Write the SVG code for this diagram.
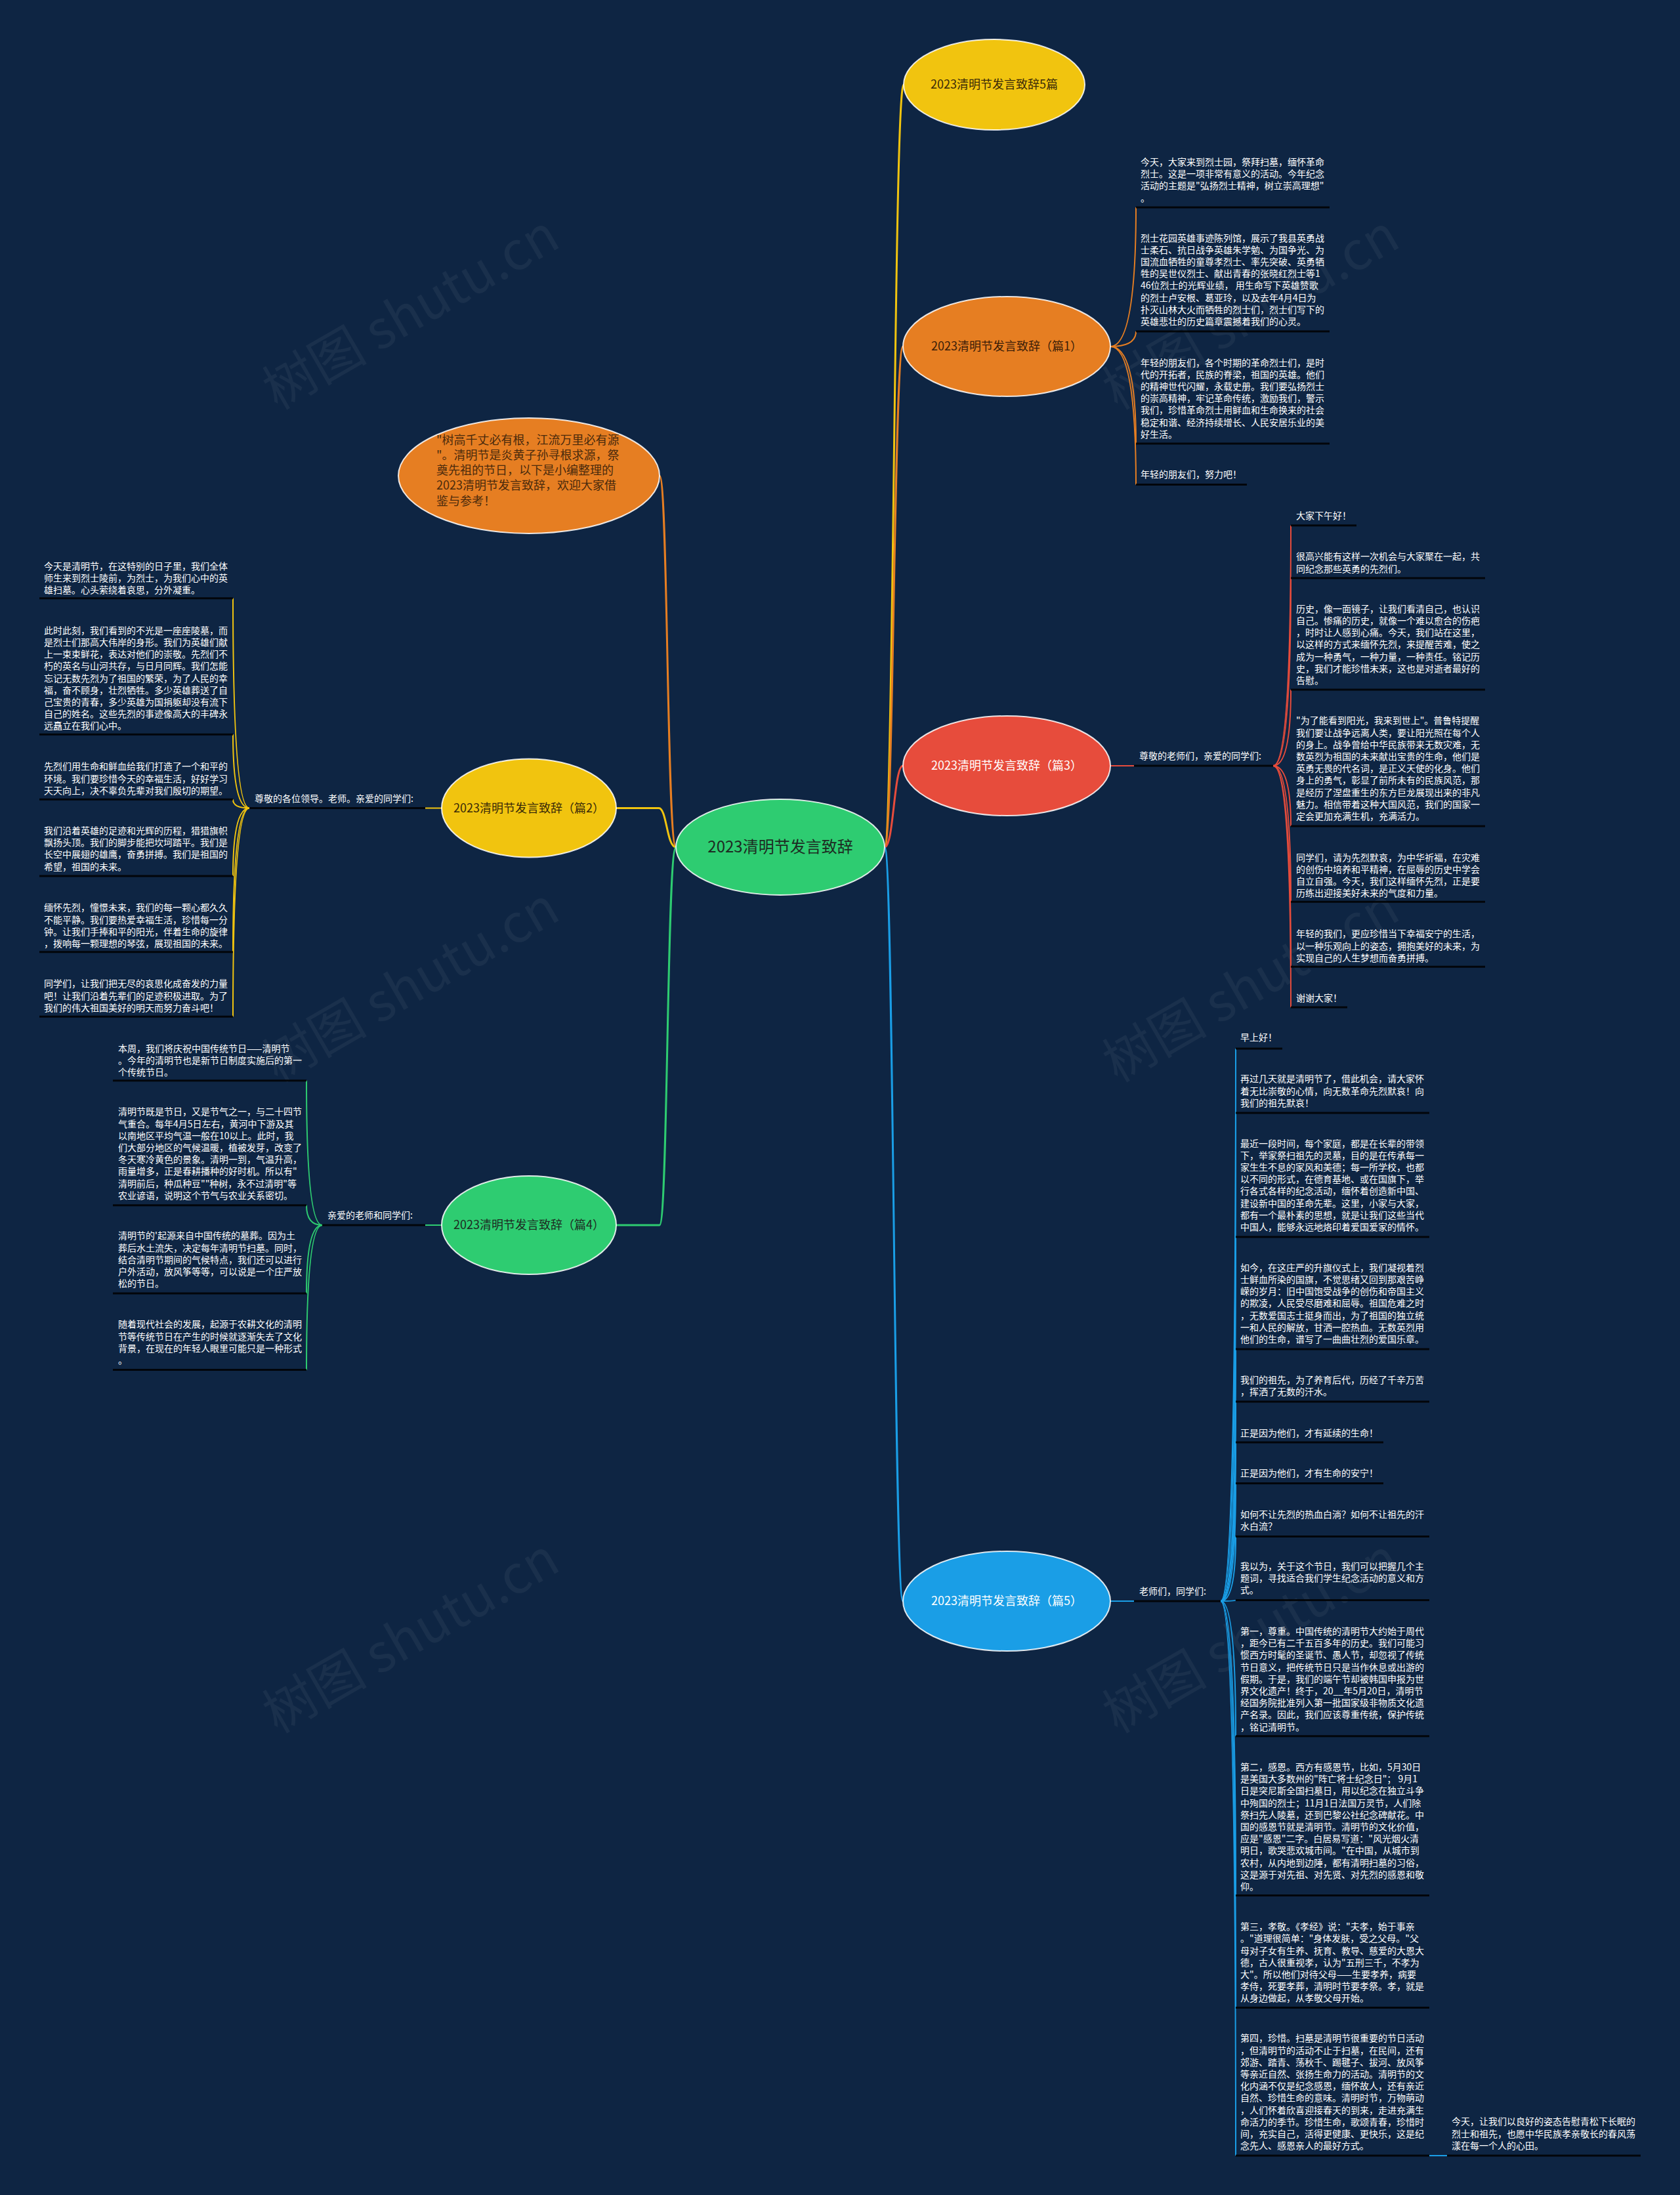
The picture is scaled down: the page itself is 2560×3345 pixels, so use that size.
<svg xmlns="http://www.w3.org/2000/svg" width="2560" height="3345" viewBox="0 0 2560 3345">
<style>
.t{font-family:"Noto Sans CJK SC","Noto Sans",sans-serif;font-size:14px;fill:#ffffff}
.lb{font-family:"Noto Sans CJK SC","Noto Sans",sans-serif;font-size:14px;fill:#ffffff}
.nt{font-family:"Noto Sans CJK SC","Noto Sans",sans-serif;font-size:18px;text-anchor:middle}
.ul{stroke:#000000;stroke-width:3;stroke-opacity:0.85}
.cn{fill:none;stroke-width:2}
.mc{fill:none;stroke-width:3}
.el{stroke:#ffffff;stroke-width:2;stroke-opacity:0.85}
.wm{font-family:"Noto Sans CJK SC","Liberation Sans",sans-serif;font-size:80px;fill:#ffffff;fill-opacity:0.05}
</style>
<rect width="2560" height="3345" fill="#0e2543"/>
<g id="watermarks">
<text class="wm" x="640" y="500" text-anchor="middle" transform="rotate(-30 640 500)">树图 shutu.cn</text>
<text class="wm" x="1920" y="500" text-anchor="middle" transform="rotate(-30 1920 500)">树图 shutu.cn</text>
<text class="wm" x="640" y="1525" text-anchor="middle" transform="rotate(-30 640 1525)">树图 shutu.cn</text>
<text class="wm" x="1920" y="1525" text-anchor="middle" transform="rotate(-30 1920 1525)">树图 shutu.cn</text>
<text class="wm" x="640" y="2517" text-anchor="middle" transform="rotate(-30 640 2517)">树图 shutu.cn</text>
<text class="wm" x="1920" y="2517" text-anchor="middle" transform="rotate(-30 1920 2517)">树图 shutu.cn</text>
</g>
<g id="connectors">
<path class="mc" stroke="#f1c40f" d="M1348 1291 C1362 1291 1362 129 1377 129"/>
<path class="mc" stroke="#e67e22" d="M1348 1291 C1362 1291 1362 528 1376 528"/>
<path class="mc" stroke="#e74c3c" d="M1348 1291 C1362 1291 1362 1167 1376 1167"/>
<path class="mc" stroke="#1a9ee6" d="M1348 1291 C1362 1291 1362 2440 1376 2440"/>
<path class="mc" stroke="#e67e22" d="M1030 1291 C1016 1291 1018 725 1005 725"/>
<path class="mc" stroke="#f1c40f" d="M1030 1291 C1016 1291 1016 1231.5 1004 1231.5 L939 1231.5"/>
<path class="mc" stroke="#2ecc71" d="M1030 1291 C1016 1291 1018 1867 1005 1867 L939 1867"/>
<g stroke="#e67e22" class="cn">
<path d="M1692 528 Q1731 528 1731 316"/>
<path d="M1692 528 Q1731 528 1731 505"/>
<path d="M1692 528 Q1731 528 1731 676"/>
<path d="M1692 528 Q1731 528 1731 738.5"/>
</g>
<g stroke="#e74c3c" class="cn">
<path d="M1692 1167 L1728 1167"/>
<path d="M1940 1167 Q1967 1167 1967 800.7"/>
<path d="M1940 1167 Q1967 1167 1967 881"/>
<path d="M1940 1167 Q1967 1167 1967 1051"/>
<path d="M1940 1167 Q1967 1167 1967 1259"/>
<path d="M1940 1167 Q1967 1167 1967 1374.3"/>
<path d="M1940 1167 Q1967 1167 1967 1473.3"/>
<path d="M1940 1167 Q1967 1167 1967 1535"/>
</g>
<g stroke="#1a9ee6" class="cn">
<path d="M1692 2440 L1728 2440"/>
<path d="M1860 2440 Q1883 2440 1883 1598"/>
<path d="M1860 2440 Q1883 2440 1883 1696"/>
<path d="M1860 2440 Q1883 2440 1883 1885"/>
<path d="M1860 2440 Q1883 2440 1883 2056"/>
<path d="M1860 2440 Q1883 2440 1883 2136"/>
<path d="M1860 2440 Q1883 2440 1883 2198"/>
<path d="M1860 2440 Q1883 2440 1883 2260.4"/>
<path d="M1860 2440 Q1883 2440 1883 2341.4"/>
<path d="M1860 2440 Q1883 2440 1883 2438.6"/>
<path d="M1860 2440 Q1883 2440 1883 2645.7"/>
<path d="M1860 2440 Q1883 2440 1883 2888.4"/>
<path d="M1860 2440 Q1883 2440 1883 3059.6"/>
<path d="M1860 2440 Q1883 2440 1883 3285"/>
<path d="M2178 3285 L2205 3285"/>
</g>
<g stroke="#f1c40f" class="cn">
<path d="M674 1231.5 L648 1231.5"/>
<path d="M380 1231.5 Q355 1231.5 355 911.7"/>
<path d="M380 1231.5 Q355 1231.5 355 1119.3"/>
<path d="M380 1231.5 Q355 1231.5 355 1218.3"/>
<path d="M380 1231.5 Q355 1231.5 355 1335"/>
<path d="M380 1231.5 Q355 1231.5 355 1450.7"/>
<path d="M380 1231.5 Q355 1231.5 355 1549.3"/>
</g>
<g stroke="#2ecc71" class="cn">
<path d="M674 1867 L648 1867"/>
<path d="M491 1867 Q467 1867 467 1646.7"/>
<path d="M491 1867 Q467 1867 467 1836.7"/>
<path d="M491 1867 Q467 1867 467 1971"/>
<path d="M491 1867 Q467 1867 467 2087.4"/>
</g>
</g>
<g id="main">
<ellipse class="el" cx="1189" cy="1291" rx="159" ry="73" fill="#2ecc71"/>
<text class="nt" x="1189" y="1299" style="font-size:24px" fill="#1d2b22">2023清明节发言致辞</text>
</g>
<g id="n-top">
<ellipse class="el" cx="1515" cy="129" rx="138" ry="69" fill="#f1c40f"/>
<text class="nt" x="1515" y="135" fill="#3a2a08">2023清明节发言致辞5篇</text>
</g>
<g id="n-p1">
<ellipse class="el" cx="1534" cy="528" rx="158" ry="76" fill="#e67e22"/>
<text class="nt" x="1534" y="534" fill="#3a1d08">2023清明节发言致辞（篇1）</text>
</g>
<g id="n-p3">
<ellipse class="el" cx="1534" cy="1167" rx="158" ry="76" fill="#e74c3c"/>
<text class="nt" x="1534" y="1173" fill="#ffffff">2023清明节发言致辞（篇3）</text>
</g>
<g id="n-p5">
<ellipse class="el" cx="1534" cy="2440" rx="158" ry="76" fill="#1a9ee6"/>
<text class="nt" x="1534" y="2446" fill="#ffffff">2023清明节发言致辞（篇5）</text>
</g>
<g id="n-intro">
<ellipse class="el" cx="806" cy="725" rx="199" ry="88" fill="#e67e22"/>
<text x="665" y="676.5" style="font-family:'Noto Sans CJK SC',sans-serif;font-size:18px" fill="#4a2a0c">
<tspan x="665" dy="0">"树高千丈必有根，江流万里必有源</tspan>
<tspan x="665" dy="23.3">"。清明节是炎黄子孙寻根求源，祭</tspan>
<tspan x="665" dy="23.3">奠先祖的节日，以下是小编整理的</tspan>
<tspan x="665" dy="23.3">2023清明节发言致辞，欢迎大家借</tspan>
<tspan x="665" dy="23.3">鉴与参考！</tspan>
</text>
</g>
<g id="n-p2">
<ellipse class="el" cx="806" cy="1231.5" rx="133" ry="75" fill="#f1c40f"/>
<text class="nt" x="806" y="1237.5" fill="#3a2a08">2023清明节发言致辞（篇2）</text>
</g>
<g id="n-p4">
<ellipse class="el" cx="806" cy="1867" rx="133" ry="75" fill="#2ecc71"/>
<text class="nt" x="806" y="1873" fill="#1d2b22">2023清明节发言致辞（篇4）</text>
</g>

<g id="p1-children">
<g id="p1-b1"><text class="t" x="1738" y="252"><tspan x="1738" dy="0">今天，大家来到烈士园，祭拜扫墓，缅怀革命</tspan><tspan x="1738" dy="18.2">烈士。这是一项非常有意义的活动。今年纪念</tspan><tspan x="1738" dy="18.2">活动的主题是"弘扬烈士精神，树立崇高理想"</tspan><tspan x="1738" dy="18.2">。</tspan></text><line class="ul" x1="1731" y1="316" x2="2026" y2="316"/></g>
<g id="p1-b2"><text class="t" x="1738" y="367.6"><tspan x="1738" dy="0">烈士花园英雄事迹陈列馆，展示了我县英勇战</tspan><tspan x="1738" dy="18.2">士柔石、抗日战争英雄朱学勉、为国争光、为</tspan><tspan x="1738" dy="18.2">国流血牺牲的童尊孝烈士、率先突破、英勇牺</tspan><tspan x="1738" dy="18.2">牲的吴世仪烈士、献出青春的张晓红烈士等1</tspan><tspan x="1738" dy="18.2">46位烈士的光辉业绩， 用生命写下英雄赞歌</tspan><tspan x="1738" dy="18.2">的烈士卢安根、葛亚玲，以及去年4月4日为</tspan><tspan x="1738" dy="18.2">扑灭山林大火而牺牲的烈士们，烈士们写下的</tspan><tspan x="1738" dy="18.2">英雄悲壮的历史篇章震撼着我们的心灵。</tspan></text><line class="ul" x1="1731" y1="505" x2="2026" y2="505"/></g>
<g id="p1-b3"><text class="t" x="1738" y="557.6"><tspan x="1738" dy="0">年轻的朋友们，各个时期的革命烈士们，是时</tspan><tspan x="1738" dy="18.2">代的开拓者，民族的脊梁，祖国的英雄。他们</tspan><tspan x="1738" dy="18.2">的精神世代闪耀，永载史册。我们要弘扬烈士</tspan><tspan x="1738" dy="18.2">的崇高精神，牢记革命传统，激励我们，警示</tspan><tspan x="1738" dy="18.2">我们，珍惜革命烈士用鲜血和生命换来的社会</tspan><tspan x="1738" dy="18.2">稳定和谐、经济持续增长、人民安居乐业的美</tspan><tspan x="1738" dy="18.2">好生活。</tspan></text><line class="ul" x1="1731" y1="676" x2="2026" y2="676"/></g>
<g id="p1-b4"><text class="t" x="1738" y="727.6">年轻的朋友们，努力吧！</text><line class="ul" x1="1731" y1="738.5" x2="1900" y2="738.5"/></g>
</g>

<g id="p3-label"><text class="lb" x="1736" y="1157">尊敬的老师们，亲爱的同学们:</text><line class="ul" x1="1728" y1="1167" x2="1940" y2="1167"/></g>
<g id="p3-children">
<g id="p3-b1"><text class="t" x="1975" y="790.7">大家下午好！</text><line class="ul" x1="1967" y1="800.7" x2="2067" y2="800.7"/></g>
<g id="p3-b2"><text class="t" x="1975" y="853.3"><tspan x="1975" dy="0">很高兴能有这样一次机会与大家聚在一起，共</tspan><tspan x="1975" dy="18.2">同纪念那些英勇的先烈们。</tspan></text><line class="ul" x1="1967" y1="881" x2="2263" y2="881"/></g>
<g id="p3-b3"><text class="t" x="1975" y="932.7"><tspan x="1975" dy="0">历史，像一面镜子，让我们看清自己，也认识</tspan><tspan x="1975" dy="18.2">自己。惨痛的历史，就像一个难以愈合的伤疤</tspan><tspan x="1975" dy="18.2">，时时让人感到心痛。今天，我们站在这里，</tspan><tspan x="1975" dy="18.2">以这样的方式来缅怀先烈，来提醒苦难，使之</tspan><tspan x="1975" dy="18.2">成为一种勇气，一种力量，一种责任。铭记历</tspan><tspan x="1975" dy="18.2">史，我们才能珍惜未来，这也是对逝者最好的</tspan><tspan x="1975" dy="18.2">告慰。</tspan></text><line class="ul" x1="1967" y1="1051" x2="2263" y2="1051"/></g>
<g id="p3-b4"><text class="t" x="1975" y="1103.3"><tspan x="1975" dy="0">"为了能看到阳光，我来到世上"。普鲁特提醒</tspan><tspan x="1975" dy="18.2">我们要让战争远离人类，要让阳光照在每个人</tspan><tspan x="1975" dy="18.2">的身上。战争曾给中华民族带来无数灾难，无</tspan><tspan x="1975" dy="18.2">数英烈为祖国的未来献出宝贵的生命，他们是</tspan><tspan x="1975" dy="18.2">英勇无畏的代名词，是正义天使的化身。他们</tspan><tspan x="1975" dy="18.2">身上的勇气，彰显了前所未有的民族风范，那</tspan><tspan x="1975" dy="18.2">是经历了涅盘重生的东方巨龙展现出来的非凡</tspan><tspan x="1975" dy="18.2">魅力。相信带着这种大国风范，我们的国家一</tspan><tspan x="1975" dy="18.2">定会更加充满生机，充满活力。</tspan></text><line class="ul" x1="1967" y1="1259" x2="2263" y2="1259"/></g>
<g id="p3-b5"><text class="t" x="1975" y="1311.7"><tspan x="1975" dy="0">同学们，请为先烈默哀，为中华祈福，在灾难</tspan><tspan x="1975" dy="18.2">的创伤中培养和平精神，在屈辱的历史中学会</tspan><tspan x="1975" dy="18.2">自立自强。今天，我们这样缅怀先烈，正是要</tspan><tspan x="1975" dy="18.2">历练出迎接美好未来的气度和力量。</tspan></text><line class="ul" x1="1967" y1="1374.3" x2="2263" y2="1374.3"/></g>
<g id="p3-b6"><text class="t" x="1975" y="1428.3"><tspan x="1975" dy="0">年轻的我们，更应珍惜当下幸福安宁的生活，</tspan><tspan x="1975" dy="18.2">以一种乐观向上的姿态，拥抱美好的未来，为</tspan><tspan x="1975" dy="18.2">实现自己的人生梦想而奋勇拼搏。</tspan></text><line class="ul" x1="1967" y1="1473.3" x2="2263" y2="1473.3"/></g>
<g id="p3-b7"><text class="t" x="1975" y="1525.7">谢谢大家！</text><line class="ul" x1="1967" y1="1535" x2="2053" y2="1535"/></g>
</g>

<g id="p5-label"><text class="lb" x="1736" y="2430">老师们，同学们:</text><line class="ul" x1="1728" y1="2440" x2="1860" y2="2440"/></g>
<g id="p5-children">
<g id="p5-b1"><text class="t" x="1890" y="1586">早上好！</text><line class="ul" x1="1883" y1="1598" x2="1954" y2="1598"/></g>
<g id="p5-b2"><text class="t" x="1890" y="1649.3"><tspan x="1890" dy="0">再过几天就是清明节了，借此机会，请大家怀</tspan><tspan x="1890" dy="18.2">着无比崇敬的心情，向无数革命先烈默哀！向</tspan><tspan x="1890" dy="18.2">我们的祖先默哀！</tspan></text><line class="ul" x1="1883" y1="1696" x2="2178" y2="1696"/></g>
<g id="p5-b3"><text class="t" x="1890" y="1747.5"><tspan x="1890" dy="0">最近一段时间，每个家庭，都是在长辈的带领</tspan><tspan x="1890" dy="18.2">下，举家祭扫祖先的灵墓，目的是在传承每一</tspan><tspan x="1890" dy="18.2">家生生不息的家风和美德；每一所学校，也都</tspan><tspan x="1890" dy="18.2">以不同的形式，在德育基地、或在国旗下，举</tspan><tspan x="1890" dy="18.2">行各式各样的纪念活动，缅怀着创造新中国、</tspan><tspan x="1890" dy="18.2">建设新中国的革命先辈。这里，小家与大家，</tspan><tspan x="1890" dy="18.2">都有一个最朴素的思想，就是让我们这些当代</tspan><tspan x="1890" dy="18.2">中国人，能够永远地烙印着爱国爱家的情怀。</tspan></text><line class="ul" x1="1883" y1="1885" x2="2178" y2="1885"/></g>
<g id="p5-b4"><text class="t" x="1890" y="1936.8"><tspan x="1890" dy="0">如今，在这庄严的升旗仪式上，我们凝视着烈</tspan><tspan x="1890" dy="18.2">士鲜血所染的国旗，不觉思绪又回到那艰苦峥</tspan><tspan x="1890" dy="18.2">嵘的岁月：旧中国饱受战争的创伤和帝国主义</tspan><tspan x="1890" dy="18.2">的欺凌，人民受尽磨难和屈辱。祖国危难之时</tspan><tspan x="1890" dy="18.2">，无数爱国志士挺身而出，为了祖国的独立统</tspan><tspan x="1890" dy="18.2">一和人民的解放，甘洒一腔热血。无数英烈用</tspan><tspan x="1890" dy="18.2">他们的生命，谱写了一曲曲壮烈的爱国乐章。</tspan></text><line class="ul" x1="1883" y1="2056" x2="2178" y2="2056"/></g>
<g id="p5-b5"><text class="t" x="1890" y="2107.5"><tspan x="1890" dy="0">我们的祖先，为了养育后代，历经了千辛万苦</tspan><tspan x="1890" dy="18.2">，挥洒了无数的汗水。</tspan></text><line class="ul" x1="1883" y1="2136" x2="2178" y2="2136"/></g>
<g id="p5-b6"><text class="t" x="1890" y="2188.6">正是因为他们，才有延续的生命！</text><line class="ul" x1="1883" y1="2198" x2="2108" y2="2198"/></g>
<g id="p5-b7"><text class="t" x="1890" y="2250">正是因为他们，才有生命的安宁！</text><line class="ul" x1="1883" y1="2260.4" x2="2108" y2="2260.4"/></g>
<g id="p5-b8"><text class="t" x="1890" y="2312.5"><tspan x="1890" dy="0">如何不让先烈的热血白淌？如何不让祖先的汗</tspan><tspan x="1890" dy="18.2">水白流？</tspan></text><line class="ul" x1="1883" y1="2341.4" x2="2178" y2="2341.4"/></g>
<g id="p5-b9"><text class="t" x="1890" y="2392"><tspan x="1890" dy="0">我以为，关于这个节日，我们可以把握几个主</tspan><tspan x="1890" dy="18.2">题词，寻找适合我们学生纪念活动的意义和方</tspan><tspan x="1890" dy="18.2">式。</tspan></text><line class="ul" x1="1883" y1="2438.6" x2="2178" y2="2438.6"/></g>
<g id="p5-b10"><text class="t" x="1890" y="2491"><tspan x="1890" dy="0">第一，尊重。中国传统的清明节大约始于周代</tspan><tspan x="1890" dy="18.2">，距今已有二千五百多年的历史。我们可能习</tspan><tspan x="1890" dy="18.2">惯西方时髦的圣诞节、愚人节，却忽视了传统</tspan><tspan x="1890" dy="18.2">节日意义，把传统节日只是当作休息或出游的</tspan><tspan x="1890" dy="18.2">假期。于是，我们的端午节却被韩国申报为世</tspan><tspan x="1890" dy="18.2">界文化遗产！终于，20__年5月20日，清明节</tspan><tspan x="1890" dy="18.2">经国务院批准列入第一批国家级非物质文化遗</tspan><tspan x="1890" dy="18.2">产名录。因此，我们应该尊重传统，保护传统</tspan><tspan x="1890" dy="18.2">，铭记清明节。</tspan></text><line class="ul" x1="1883" y1="2645.7" x2="2178" y2="2645.7"/></g>
<g id="p5-b11"><text class="t" x="1890" y="2698"><tspan x="1890" dy="0">第二，感恩。西方有感恩节，比如，5月30日</tspan><tspan x="1890" dy="18.2">是美国大多数州的"阵亡将士纪念日"； 9月1</tspan><tspan x="1890" dy="18.2">日是突尼斯全国扫墓日，用以纪念在独立斗争</tspan><tspan x="1890" dy="18.2">中殉国的烈士；11月1日法国万灵节，人们除</tspan><tspan x="1890" dy="18.2">祭扫先人陵墓，还到巴黎公社纪念碑献花。中</tspan><tspan x="1890" dy="18.2">国的感恩节就是清明节。清明节的文化价值，</tspan><tspan x="1890" dy="18.2">应是"感恩"二字。白居易写道："风光烟火清</tspan><tspan x="1890" dy="18.2">明日，歌哭悲欢城市间。"在中国，从城市到</tspan><tspan x="1890" dy="18.2">农村，从内地到边陲，都有清明扫墓的习俗，</tspan><tspan x="1890" dy="18.2">这是源于对先祖、对先贤、对先烈的感恩和敬</tspan><tspan x="1890" dy="18.2">仰。</tspan></text><line class="ul" x1="1883" y1="2888.4" x2="2178" y2="2888.4"/></g>
<g id="p5-b12"><text class="t" x="1890" y="2941.2"><tspan x="1890" dy="0">第三，孝敬。《孝经》说："夫孝，始于事亲</tspan><tspan x="1890" dy="18.2">。"道理很简单："身体发肤，受之父母。"父</tspan><tspan x="1890" dy="18.2">母对子女有生养、抚育、教导、慈爱的大恩大</tspan><tspan x="1890" dy="18.2">德，古人很重视孝，认为"五刑三千，不孝为</tspan><tspan x="1890" dy="18.2">大"。所以他们对待父母——生要孝养，病要</tspan><tspan x="1890" dy="18.2">孝侍，死要孝葬，清明时节要孝祭。孝，就是</tspan><tspan x="1890" dy="18.2">从身边做起，从孝敬父母开始。</tspan></text><line class="ul" x1="1883" y1="3059.6" x2="2178" y2="3059.6"/></g>
<g id="p5-b13"><text class="t" x="1890" y="3111.3"><tspan x="1890" dy="0">第四，珍惜。扫墓是清明节很重要的节日活动</tspan><tspan x="1890" dy="18.2">，但清明节的活动不止于扫墓，在民间，还有</tspan><tspan x="1890" dy="18.2">郊游、踏青、荡秋千、踢毽子、拔河、放风筝</tspan><tspan x="1890" dy="18.2">等亲近自然、张扬生命力的活动。清明节的文</tspan><tspan x="1890" dy="18.2">化内涵不仅是纪念感恩，缅怀故人，还有亲近</tspan><tspan x="1890" dy="18.2">自然、珍惜生命的意味。清明时节，万物萌动</tspan><tspan x="1890" dy="18.2">，人们怀着欣喜迎接春天的到来，走进充满生</tspan><tspan x="1890" dy="18.2">命活力的季节。珍惜生命，歌颂青春，珍惜时</tspan><tspan x="1890" dy="18.2">间，充实自己，活得更健康、更快乐，这是纪</tspan><tspan x="1890" dy="18.2">念先人、感恩亲人的最好方式。</tspan></text><line class="ul" x1="1883" y1="3285" x2="2178" y2="3285"/></g>
<g id="p5-b14"><text class="t" x="2212" y="3238.3"><tspan x="2212" dy="0">今天，让我们以良好的姿态告慰青松下长眠的</tspan><tspan x="2212" dy="18.2">烈士和祖先，也愿中华民族孝亲敬长的春风荡</tspan><tspan x="2212" dy="18.2">漾在每一个人的心田。</tspan></text><line class="ul" x1="2205" y1="3285" x2="2500" y2="3285"/></g>
</g>

<g id="p2-label"><text class="lb" x="388" y="1221.5">尊敬的各位领导。老师。亲爱的同学们:</text><line class="ul" x1="380" y1="1231.5" x2="648" y2="1231.5"/></g>
<g id="p2-children">
<g id="p2-b1"><text class="t" x="67" y="867.7"><tspan x="67" dy="0">今天是清明节，在这特别的日子里，我们全体</tspan><tspan x="67" dy="18.2">师生来到烈士陵前，为烈士，为我们心中的英</tspan><tspan x="67" dy="18.2">雄扫墓。心头萦绕着哀思，分外凝重。</tspan></text><line class="ul" x1="60" y1="911.7" x2="355" y2="911.7"/></g>
<g id="p2-b2"><text class="t" x="67" y="965.7"><tspan x="67" dy="0">此时此刻，我们看到的不光是一座座陵墓，而</tspan><tspan x="67" dy="18.2">是烈士们那高大伟岸的身形。我们为英雄们献</tspan><tspan x="67" dy="18.2">上一束束鲜花，表达对他们的崇敬。先烈们不</tspan><tspan x="67" dy="18.2">朽的英名与山河共存，与日月同辉。我们怎能</tspan><tspan x="67" dy="18.2">忘记无数先烈为了祖国的繁荣，为了人民的幸</tspan><tspan x="67" dy="18.2">福，奋不顾身，壮烈牺牲。多少英雄葬送了自</tspan><tspan x="67" dy="18.2">己宝贵的青春，多少英雄为国捐躯却没有流下</tspan><tspan x="67" dy="18.2">自己的姓名。这些先烈的事迹像高大的丰碑永</tspan><tspan x="67" dy="18.2">远矗立在我们心中。</tspan></text><line class="ul" x1="60" y1="1119.3" x2="355" y2="1119.3"/></g>
<g id="p2-b3"><text class="t" x="67" y="1173.3"><tspan x="67" dy="0">先烈们用生命和鲜血给我们打造了一个和平的</tspan><tspan x="67" dy="18.2">环境。我们要珍惜今天的幸福生活，好好学习</tspan><tspan x="67" dy="18.2">天天向上，决不辜负先辈对我们殷切的期望。</tspan></text><line class="ul" x1="60" y1="1218.3" x2="355" y2="1218.3"/></g>
<g id="p2-b4"><text class="t" x="67" y="1271"><tspan x="67" dy="0">我们沿着英雄的足迹和光辉的历程，猎猎旗帜</tspan><tspan x="67" dy="18.2">飘扬头顶。我们的脚步能把坎坷踏平。我们是</tspan><tspan x="67" dy="18.2">长空中展翅的雄鹰，奋勇拼搏。我们是祖国的</tspan><tspan x="67" dy="18.2">希望，祖国的未来。</tspan></text><line class="ul" x1="60" y1="1335" x2="355" y2="1335"/></g>
<g id="p2-b5"><text class="t" x="67" y="1388.3"><tspan x="67" dy="0">缅怀先烈，憧憬未来，我们的每一颗心都久久</tspan><tspan x="67" dy="18.2">不能平静。我们要热爱幸福生活，珍惜每一分</tspan><tspan x="67" dy="18.2">钟。让我们手捧和平的阳光，伴着生命的旋律</tspan><tspan x="67" dy="18.2">，拨响每一颗理想的琴弦，展现祖国的未来。</tspan></text><line class="ul" x1="60" y1="1450.7" x2="355" y2="1450.7"/></g>
<g id="p2-b6"><text class="t" x="67" y="1504.3"><tspan x="67" dy="0">同学们，让我们把无尽的哀思化成奋发的力量</tspan><tspan x="67" dy="18.2">吧！让我们沿着先辈们的足迹积极进取。为了</tspan><tspan x="67" dy="18.2">我们的伟大祖国美好的明天而努力奋斗吧！</tspan></text><line class="ul" x1="60" y1="1549.3" x2="355" y2="1549.3"/></g>
</g>

<g id="p4-label"><text class="lb" x="499" y="1857">亲爱的老师和同学们:</text><line class="ul" x1="491" y1="1867" x2="648" y2="1867"/></g>
<g id="p4-children">
<g id="p4-b1"><text class="t" x="180" y="1602.7"><tspan x="180" dy="0">本周，我们将庆祝中国传统节日——清明节</tspan><tspan x="180" dy="18.2">。今年的清明节也是新节日制度实施后的第一</tspan><tspan x="180" dy="18.2">个传统节日。</tspan></text><line class="ul" x1="172" y1="1646.7" x2="467" y2="1646.7"/></g>
<g id="p4-b2"><text class="t" x="180" y="1699.3"><tspan x="180" dy="0">清明节既是节日，又是节气之一，与二十四节</tspan><tspan x="180" dy="18.2">气重合。每年4月5日左右，黄河中下游及其</tspan><tspan x="180" dy="18.2">以南地区平均气温一般在10以上。此时，我</tspan><tspan x="180" dy="18.2">们大部分地区的气候温暖，植被发芽，改变了</tspan><tspan x="180" dy="18.2">冬天寒冷黄色的景象。清明一到，气温升高，</tspan><tspan x="180" dy="18.2">雨量增多，正是春耕播种的好时机。所以有"</tspan><tspan x="180" dy="18.2">清明前后，种瓜种豆""种树，永不过清明"等</tspan><tspan x="180" dy="18.2">农业谚语，说明这个节气与农业关系密切。</tspan></text><line class="ul" x1="172" y1="1836.7" x2="467" y2="1836.7"/></g>
<g id="p4-b3"><text class="t" x="180" y="1888.3"><tspan x="180" dy="0">清明节的'起源来自中国传统的墓葬。因为土</tspan><tspan x="180" dy="18.2">葬后水土流失，决定每年清明节扫墓。同时，</tspan><tspan x="180" dy="18.2">结合清明节期间的气候特点，我们还可以进行</tspan><tspan x="180" dy="18.2">户外活动，放风筝等等，可以说是一个庄严放</tspan><tspan x="180" dy="18.2">松的节日。</tspan></text><line class="ul" x1="172" y1="1971" x2="467" y2="1971"/></g>
<g id="p4-b4"><text class="t" x="180" y="2023.3"><tspan x="180" dy="0">随着现代社会的发展，起源于农耕文化的清明</tspan><tspan x="180" dy="18.2">节等传统节日在产生的时候就逐渐失去了文化</tspan><tspan x="180" dy="18.2">背景，在现在的年轻人眼里可能只是一种形式</tspan><tspan x="180" dy="18.2">。</tspan></text><line class="ul" x1="172" y1="2087.4" x2="467" y2="2087.4"/></g>
</g>
</svg>
